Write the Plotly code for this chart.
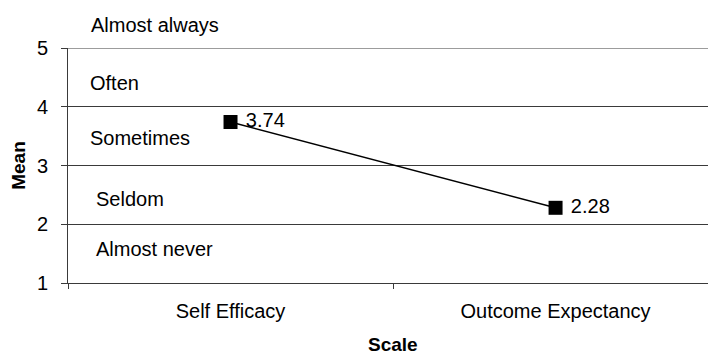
import plotly.graph_objects as go

# Mean scores per scale
scales = ["Self Efficacy", "Outcome Expectancy"]
means = [3.74, 2.28]

# Frequency bands written inside the plot (y in data units of the mean scale)
band_labels = ["Almost always", "Often", "Sometimes", "Seldom", "Almost never"]
band_y = [5.39, 4.40, 3.47, 2.43, 1.58]
band_x = [-0.435, -0.437, -0.44, -0.42, -0.42]

y_ticks = [1, 2, 3, 4, 5]
Y_MIN, Y_MAX = 1, 5

FONT = "Liberation Sans, Arial, sans-serif"
INK = "#000000"
LINE = "#3a3a3a"
NBSP = "\u00a0"

fig = go.Figure()
fig.add_trace(go.Scatter(
    x=scales, y=means,
    mode="lines+markers+text",
    line=dict(color=INK, width=1.6),
    marker=dict(symbol="square", size=14, color=INK),
    text=[NBSP + f"{v:.2f}" for v in means],
    textposition="middle right",
    textfont=dict(family=FONT, size=20, color=INK),
    cliponaxis=False,
    showlegend=False,
))

# top boundary line of the scale
fig.add_shape(type="line", xref="paper", yref="y", x0=0, x1=1, y0=Y_MAX, y1=Y_MAX,
              line=dict(color=LINE, width=1), layer="below")

for lbl, yy, xx in zip(band_labels, band_y, band_x):
    fig.add_annotation(x=xx, y=(yy - Y_MIN) / (Y_MAX - Y_MIN), xref="x", yref="paper",
                       text=lbl, showarrow=False, xanchor="left", yanchor="middle",
                       font=dict(family=FONT, size=20, color=INK))

# x-axis title placed below the category labels
fig.add_annotation(x=0.5, y=-0.262, xref="x", yref="paper", text="<b>Scale</b>",
                   showarrow=False, xanchor="center", yanchor="middle",
                   font=dict(family=FONT, size=19, color=INK))

fig.update_layout(
    width=708, height=354,
    margin=dict(l=68, r=0, t=48, b=71),
    paper_bgcolor="white", plot_bgcolor="white",
    font=dict(family=FONT, color=INK),
)

fig.update_xaxes(
    type="category",
    range=[-0.5, 1.469],
    tickson="boundaries",
    automargin=False,
    ticks="outside", ticklen=5, tickcolor=LINE,
    ticklabelstandoff=10,
    showline=True, linecolor=LINE, linewidth=1,
    showgrid=False,
    tickfont=dict(family=FONT, size=20, color=INK),
)

fig.update_yaxes(
    range=[Y_MIN, Y_MAX],
    tickvals=y_ticks,
    automargin=False,
    ticks="outside", ticklen=6, tickcolor=LINE,
    ticklabelstandoff=9,
    showline=True, linecolor=LINE, linewidth=1,
    showgrid=True, gridcolor=LINE, gridwidth=1,
    zeroline=False,
    tickfont=dict(family=FONT, size=20, color=INK),
    title=dict(text="<b>Mean</b>", font=dict(family=FONT, size=19, color=INK), standoff=6),
)

fig.write_html("out.html")
